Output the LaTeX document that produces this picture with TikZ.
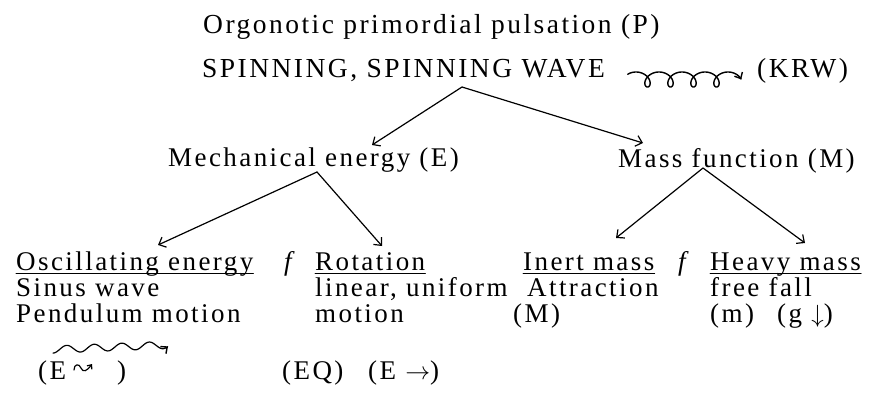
\documentclass[tikz,border=0pt]{standalone}
\usepackage{fontspec}
\setmainfont{Liberation Serif}[LetterSpace=9]
\usetikzlibrary{arrows.meta}

\begin{document}
\begin{tikzpicture}[x=1pt,y=-1pt,line cap=round,line join=round,
  txt/.style={anchor=base west,inner sep=0pt,font=\fontsize{27}{30}\selectfont},
  big/.style={txt,font=\fontsize{27.5}{30}\selectfont},
  link/.style={line width=1.2pt,-{Straight Barb[length=6pt,width=11pt,line width=1.2pt]}},
  curl/.style={line width=1.4pt,-{Straight Barb[length=5pt,width=9pt,line width=1.4pt]}},
  uline/.style={line width=1pt}]
  \useasboundingbox (0,0) rectangle (872,392);
  % head
  \node[big] (pulse) at (203,33) {Orgonotic primordial pulsation (P)};
  \node[big] (spin) at (202,77) {SPINNING, SPINNING WAVE};
  \node[big] (krw) at (757,77) {(KRW)};
  \draw[curl] plot[domain=-0.8:26.7,samples=260,smooth]
    ({636+3.66*\x+7.5*sin(\x r)},{79.5-7.5*cos(\x r)});
  % second level
  \node[txt] (mech) at (168,166) {Mechanical energy (E)};
  \node[txt] (mass) at (618,167) {Mass function (M)};
  % bottom rows
  \node[txt] (osc) at (16,270) {Oscillating energy};
  \node[txt] (f1) at (284,270) {\textit{f}};
  \node[txt] (rot) at (315,270) {Rotation};
  \node[txt] (inert) at (523,270) {Inert mass};
  \node[txt] (f2) at (678,270) {\textit{f}};
  \node[txt] (heavy) at (710,270) {Heavy mass};
  \foreach \n in {osc,rot,inert,heavy}
    \draw[uline] ([yshift=-3.5pt]\n.base west) -- ([yshift=-3.5pt]\n.base east);
  \node[txt] (sinus) at (16,296) {Sinus wave};
  \node[txt] (linear) at (315,296) {linear, uniform};
  \node[txt] (attr) at (527,296) {Attraction};
  \node[txt] (free) at (710,296) {free fall};
  \node[txt] (pend) at (16,322) {Pendulum motion};
  \node[txt] (motion) at (315,322) {motion};
  \node[txt] (bigm) at (513,322) {(M)};
  \node[txt] (smallm) at (710,322) {(m)};
  \node[txt] (grav) at (777,322) {(g $\downarrow$)};
  % symbols
  \draw[curl,line width=1.2pt] plot[domain=53:168,samples=200,smooth]
    (\x,{349.5-0.04*(\x-53)-3.6*sin((\x-53)/27.5*360-90)});
  \node[txt] (ewl) at (38,379) {(E};
  \node[txt] (ewr) at (117,379) {)};
  \draw[line width=1.2pt,-{Straight Barb[length=3.5pt,width=6pt,line width=1.2pt]}]
    (74,370) .. controls (74,364) and (79,363) .. (81,368)
    .. controls (83,373) and (87,371) .. (92,364);
  \node[txt] (eq) at (282,379) {(EQ)};
  \node[txt] (eto) at (368,379) {(E $\rightarrow$)};
  % connectors
  \coordinate (spin-out) at (462,87);
  \coordinate (mech-in) at (372,145);
  \coordinate (mass-in) at (643,143);
  \coordinate (mech-out) at (317,172);
  \coordinate (mass-out) at (703,168);
  \coordinate (osc-in) at (158,245);
  \coordinate (rot-in) at (382,246);
  \coordinate (inert-in) at (616,238);
  \coordinate (heavy-in) at (805,243);
  \draw[link] (spin-out) -- (mech-in);
  \draw[link] (spin-out) -- (mass-in);
  \draw[link] (mech-out) -- (osc-in);
  \draw[link] (mech-out) -- (rot-in);
  \draw[link] (mass-out) -- (inert-in);
  \draw[link] (mass-out) -- (heavy-in);
\end{tikzpicture}
\end{document}
